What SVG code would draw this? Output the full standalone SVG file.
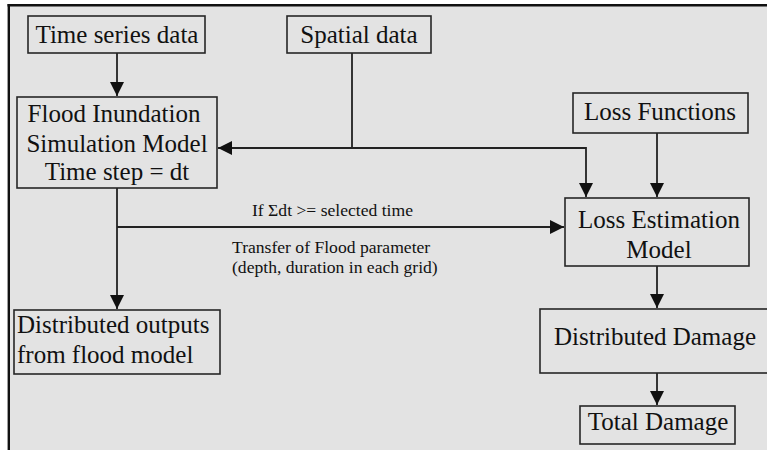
<svg xmlns="http://www.w3.org/2000/svg" width="767" height="452" viewBox="0 0 767 452">
  <style>
    .box { fill: #e3e3e3; stroke: #262626; stroke-width: 1.6; }
    .lbl { font-family: "Liberation Serif", "Times New Roman", serif; font-size: 25px; fill: #111; text-anchor: middle; }
    .small { font-family: "Liberation Serif", "Times New Roman", serif; font-size: 17.6px; fill: #111; }
    .conn { fill: none; stroke: #222; stroke-width: 1.8; }
  </style>
  <defs>
    <marker id="arr" markerUnits="userSpaceOnUse" markerWidth="14" markerHeight="14" refX="14" refY="7" orient="auto" viewBox="0 0 14 14">
      <path d="M0,0 L14,7 L0,14 z" fill="#111"/>
    </marker>
  </defs>
  <rect x="0" y="0" width="767" height="452" fill="#ffffff"/>
  <rect x="8" y="5" width="759" height="445" fill="#e3e3e3"/>
  <line x1="7.5" y1="5.3" x2="767" y2="5.3" stroke="#111" stroke-width="2.6"/>
  <line x1="8.8" y1="4" x2="8.8" y2="450" stroke="#111" stroke-width="2.4"/>

  <g id="connectors">
    <path class="conn" d="M117,53 V96" marker-end="url(#arr)"/>
    <path class="conn" d="M352,53 V148 H218" marker-end="url(#arr)"/>
    <path class="conn" d="M352,148 H586 V197" marker-end="url(#arr)"/>
    <path class="conn" d="M657,133 V197" marker-end="url(#arr)"/>
    <path class="conn" d="M117,188 V309" marker-end="url(#arr)"/>
    <path class="conn" d="M117,227 H564" marker-end="url(#arr)"/>
    <path class="conn" d="M657,266 V308" marker-end="url(#arr)"/>
    <path class="conn" d="M657,373 V405" marker-end="url(#arr)"/>
    <text class="small" x="252" y="216">If Σdt &gt;= selected time</text>
    <text class="small" x="232" y="253">Transfer of Flood parameter</text>
    <text class="small" x="232" y="272.5">(depth, duration in each grid)</text>
  </g>

  <g id="time-series">
    <rect class="box" x="28" y="16" width="177" height="37"/>
    <text class="lbl" x="117" y="43">Time series data</text>
  </g>
  <g id="spatial">
    <rect class="box" x="287" y="16" width="144" height="37"/>
    <text class="lbl" x="359" y="43">Spatial data</text>
  </g>
  <g id="flood-model">
    <rect class="box" x="17" y="97" width="200" height="91"/>
    <text class="lbl" x="114" y="122">Flood Inundation</text>
    <text class="lbl" x="117" y="152">Simulation Model</text>
    <text class="lbl" x="117" y="180">Time step = dt</text>
  </g>
  <g id="loss-functions">
    <rect class="box" x="573" y="93" width="175" height="40"/>
    <text class="lbl" x="660" y="120">Loss Functions</text>
  </g>
  <g id="loss-estimation">
    <rect class="box" x="565" y="198" width="184" height="68"/>
    <text class="lbl" x="659" y="228">Loss Estimation</text>
    <text class="lbl" x="659" y="258">Model</text>
  </g>
  <g id="distributed-outputs">
    <rect class="box" x="14" y="310" width="206" height="64"/>
    <text class="lbl" x="17" y="333" style="text-anchor:start">Distributed outputs</text>
    <text class="lbl" x="17" y="363" style="text-anchor:start">from flood model</text>
  </g>
  <g id="distributed-damage">
    <rect class="box" x="540" y="309" width="232" height="64"/>
    <text class="lbl" x="655" y="345">Distributed Damage</text>
  </g>
  <g id="total-damage">
    <rect class="box" x="580" y="406" width="155" height="38"/>
    <text class="lbl" x="658" y="430">Total Damage</text>
  </g>
</svg>
